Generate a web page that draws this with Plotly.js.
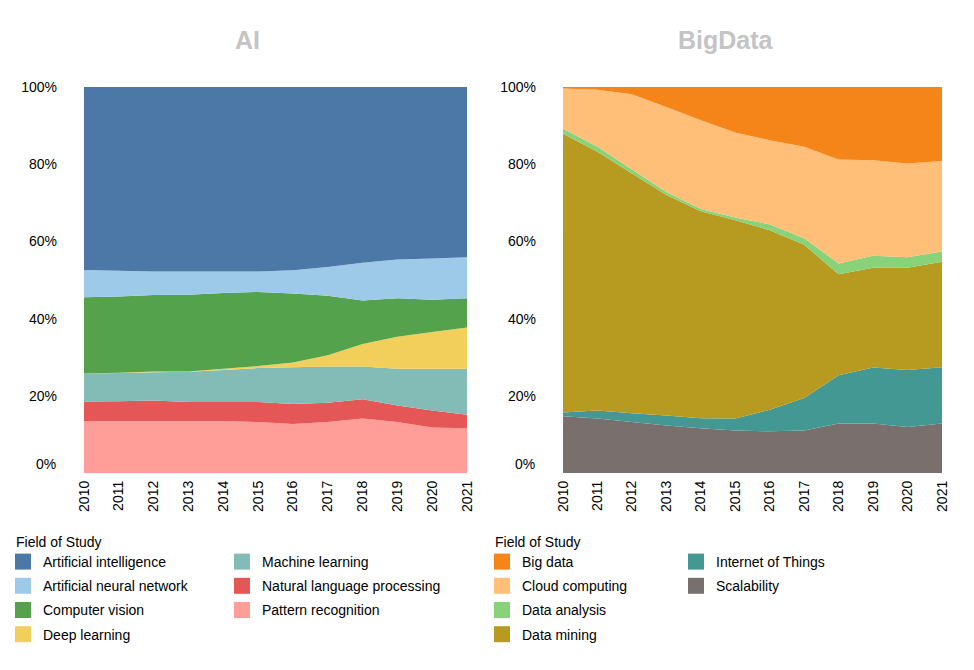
<!DOCTYPE html>
<html>
<head>
<meta charset="utf-8">
<script src="https://cdn.plot.ly/plotly-3.0.1.min.js"></script>
<style>
  body { margin: 0; background: #fff; }
  #chart { width: 974px; height: 670px; }
</style>
</head>
<body>
<div id="chart"></div>
<script>
var years = [2010, 2011, 2012, 2013, 2014, 2015, 2016, 2017, 2018, 2019, 2020, 2021];

// AI fields, share of publications (%)
var artificialIntelligence = [47.4, 47.6, 47.8, 47.8, 47.8, 47.8, 47.5, 46.6, 45.5, 44.7, 44.4, 44.1];
var artificialNeuralNetwork = [7.1, 6.7, 6.1, 6.0, 5.6, 5.3, 6.0, 7.5, 9.8, 10.0, 10.7, 10.6];
var computerVision = [19.7, 19.7, 19.8, 19.9, 19.6, 19.2, 17.9, 15.4, 11.3, 10.0, 8.4, 7.6];
var deepLearning = [0, 0.1, 0.2, 0.1, 0.3, 0.5, 1.2, 2.9, 5.8, 8.3, 9.5, 10.7];
var machineLearning = [7.3, 7.3, 7.3, 7.8, 8.3, 8.8, 9.5, 9.4, 8.5, 9.5, 10.8, 11.9];
var naturalLanguageProcessing = [5.0, 5.1, 5.3, 4.9, 4.9, 5.2, 5.2, 5.0, 5.0, 4.3, 4.4, 3.5];
var patternRecognition = [13.5, 13.5, 13.5, 13.5, 13.5, 13.2, 12.7, 13.2, 14.1, 13.2, 11.8, 11.6];

// BigData fields
var bigData = [0.4, 0.7, 1.9, 5.2, 8.6, 11.8, 13.8, 15.5, 18.8, 19.0, 19.8, 19.2];
var cloudComputing = [10.4, 14.8, 19.5, 22.0, 23.0, 22.0, 21.8, 23.7, 26.9, 24.7, 24.3, 23.4];
var dataAnalysis = [1.3, 1.3, 1.0, 0.8, 0.6, 0.7, 1.5, 1.7, 2.8, 3.1, 2.7, 2.7];
var dataMining = [72.2, 67.0, 62.1, 57.1, 53.6, 51.4, 46.5, 39.7, 26.2, 25.9, 26.5, 27.3];
var internetOfThings = [1.0, 2.1, 2.3, 2.6, 2.6, 3.1, 5.6, 8.4, 12.5, 14.5, 14.8, 14.6];
var scalability = [14.7, 14.1, 13.2, 12.3, 11.6, 11.0, 10.8, 11.0, 12.8, 12.8, 11.9, 12.8];

var yTicks = [20, 40, 60, 80, 100];
var yTickText = yTicks.map(function (v) { return v + '%'; });

var font = 'Liberation Sans, Arial, sans-serif';

// name, values, color, legend column  (listed top of stack first)
var aiSeries = [
  ['Artificial intelligence', artificialIntelligence, '#4c78a8', 'legend'],
  ['Artificial neural network', artificialNeuralNetwork, '#9ecae9', 'legend'],
  ['Computer vision', computerVision, '#54a24b', 'legend'],
  ['Deep learning', deepLearning, '#f2cf5b', 'legend'],
  ['Machine learning', machineLearning, '#83bcb6', 'legend2'],
  ['Natural language processing', naturalLanguageProcessing, '#e45756', 'legend2'],
  ['Pattern recognition', patternRecognition, '#ff9d98', 'legend2']
];
var bdSeries = [
  ['Big data', bigData, '#f58518', 'legend3'],
  ['Cloud computing', cloudComputing, '#ffbf79', 'legend3'],
  ['Data analysis', dataAnalysis, '#88d27a', 'legend3'],
  ['Data mining', dataMining, '#b79a20', 'legend3'],
  ['Internet of Things', internetOfThings, '#439894', 'legend4'],
  ['Scalability', scalability, '#79706e', 'legend4']
];

function legendTraces(series, xa, ya) {
  return series.map(function (s) {
    return {
      type: 'scatter', mode: 'markers',
      x: [null], y: [null],
      xaxis: xa, yaxis: ya,
      name: s[0],
      legend: s[3],
      legendgroup: s[0],
      marker: { symbol: 'square', size: 16, color: s[2] },
      hoverinfo: 'skip'
    };
  });
}

function areaTraces(series, xa, ya, stack) {
  // first trace sits at the bottom of the stack
  return series.slice().reverse().map(function (s) {
    return {
      type: 'scatter', mode: 'none',
      x: years, y: s[1],
      xaxis: xa, yaxis: ya,
      name: s[0],
      stackgroup: stack,
      groupnorm: 'percent',
      fillcolor: s[2],
      legendgroup: s[0],
      showlegend: false,
      hovertemplate: s[0] + ' %{x}: %{y:.1f}%<extra></extra>'
    };
  });
}

var data = []
  .concat(legendTraces(aiSeries, 'x', 'y'))
  .concat(legendTraces(bdSeries, 'x2', 'y2'))
  .concat(areaTraces(aiSeries, 'x', 'y', 'ai'))
  .concat(areaTraces(bdSeries, 'x2', 'y2', 'bd'));

function xAxis(dom, anchor) {
  return {
    domain: dom, anchor: anchor,
    range: [2010, 2021],
    tickvals: years,
    tickangle: -90,
    ticks: '', showgrid: false, zeroline: false, showline: false,
    ticklabelstandoff: 4,
    tickfont: { family: font, size: 14, color: '#000' }
  };
}
function yAxis(anchor) {
  return {
    domain: [0, 1], anchor: anchor,
    range: [0, 100],
    tickmode: 'array',
    tickvals: yTicks,
    ticktext: yTickText,
    ticks: '', showgrid: false, zeroline: false, showline: false,
    ticklabelstandoff: 26,
    tickfont: { family: font, size: 14, color: '#000' }
  };
}

function legendBox(px) {
  return {
    xref: 'container', yref: 'container',
    x: px / 974, y: 1 - 546 / 670, xanchor: 'left', yanchor: 'top',
    orientation: 'v', traceorder: 'grouped', tracegroupgap: 3,
    bgcolor: 'rgba(0,0,0,0)',
    font: { family: font, size: 14, color: '#000' }
  };
}

var titleFont = { family: font, size: 25, color: '#c4c4c4', weight: 'bold' };
var legendTitleFont = { family: font, size: 14, color: '#000' };

var layout = {
  width: 974, height: 670,
  margin: { l: 84, r: 32, t: 87, b: 197, autoexpand: false },
  paper_bgcolor: '#fff', plot_bgcolor: '#fff',
  showlegend: true,
  xaxis: xAxis([0, 0.4464], 'y'),
  yaxis: yAxis('x'),
  xaxis2: xAxis([0.5583, 1], 'y2'),
  yaxis2: yAxis('x2'),
  legend: legendBox(3),
  legend2: legendBox(222),
  legend3: legendBox(482),
  legend4: legendBox(676),
  annotations: [
    { text: '<b>AI</b>', xref: 'paper', yref: 'paper', x: 0.1911, y: 1.1218,
      xanchor: 'center', yanchor: 'middle', showarrow: false, font: titleFont },
    { text: '<b>BigData</b>', xref: 'paper', yref: 'paper', x: 0.7483, y: 1.1218,
      xanchor: 'center', yanchor: 'middle', showarrow: false, font: titleFont },
    { text: '0%', xref: 'x domain', yref: 'y', x: 0, y: 0, xshift: -26, yshift: 9,
      xanchor: 'right', yanchor: 'middle', showarrow: false,
      font: { family: font, size: 14, color: '#000' } },
    { text: '0%', xref: 'x2 domain', yref: 'y2', x: 0, y: 0, xshift: -26, yshift: 9,
      xanchor: 'right', yanchor: 'middle', showarrow: false,
      font: { family: font, size: 14, color: '#000' } },
    { text: 'Field of Study', xref: 'paper', yref: 'paper', x: -0.0816, y: -0.1788,
      xanchor: 'left', yanchor: 'middle', showarrow: false, font: legendTitleFont },
    { text: 'Field of Study', xref: 'paper', yref: 'paper', x: 0.4767, y: -0.1788,
      xanchor: 'left', yanchor: 'middle', showarrow: false, font: legendTitleFont }
  ]
};

Plotly.newPlot('chart', data, layout, { displayModeBar: false, responsive: false });
</script>
</body>
</html>
